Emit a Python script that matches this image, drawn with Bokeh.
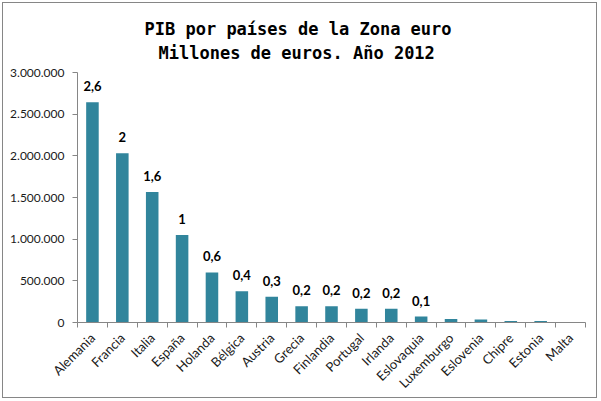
from math import pi
from bokeh.plotting import figure
from bokeh.models import FixedTicker, ColumnDataSource, LabelSet, Range1d, Title
from bokeh.embed import file_html
from bokeh.resources import INLINE
from bokeh.core.properties import value

countries = ["Alemania", "Francia", "Italia", "España", "Holanda", "Bélgica",
             "Austria", "Grecia", "Finlandia", "Portugal", "Irlanda",
             "Eslovaquia", "Luxemburgo", "Eslovenia", "Chipre", "Estonia", "Malta"]
pib = [2644200, 2032297, 1565916, 1049525, 600638, 375881, 309900, 193749,
       194469, 165409, 163595, 71463, 42918, 35319, 17886, 17415, 6829]
bar_labels = ["2,6", "2", "1,6", "1", "0,6", "0,4", "0,3", "0,2", "0,2", "0,2",
              "0,2", "0,1", "", "", "", "", ""]
y_ticks = [0, 500000, 1000000, 1500000, 2000000, 2500000, 3000000]
y_tick_labels = ["0", "500.000", "1.000.000", "1.500.000", "2.000.000",
                 "2.500.000", "3.000.000"]
title_line1 = "PIB por países de la Zona euro"
title_line2 = "Millones de euros. Año 2012"

n = len(countries)
xpos = list(range(n))
src = ColumnDataSource(dict(x=xpos, top=pib, lab=bar_labels, name=countries))

p = figure(width=595, height=396, output_backend="svg", toolbar_location=None,
           x_range=Range1d(-0.5, n - 0.5), y_range=Range1d(0, 3000000),
           min_border_left=74, min_border_right=13, min_border_top=69,
           min_border_bottom=76)
p.styles = {"border": "1px solid #868686", "box-sizing": "border-box",
            "margin-left": "2px", "margin-top": "2px"}

p.vbar(x="x", top="top", width=0.42, bottom=0, source=src,
       fill_color="#31859C", line_color=None)

labels = LabelSet(x="x", y="top", text="lab", source=src, y_offset=11,
                  text_align="center", text_baseline="alphabetic",
                  text_font=value("Lato"), text_font_size="13px",
                  text_font_style="bold", text_color="#000000")
p.add_layout(labels)

p.title.text = title_line1
p.title.align = "left"
p.title.offset = 67
p.title.standoff = -8
p.title.vertical_align = "bottom"
p.title.text_font = "DejaVu Sans Mono"
p.title.text_font_size = "17px"
p.title.text_font_style = "bold"
p.title.text_color = "#000000"

t2 = Title(text=title_line2, align="left", offset=81, standoff=16,
           vertical_align="top",
           text_font="DejaVu Sans Mono", text_font_size="17px",
           text_font_style="bold", text_color="#000000")
p.add_layout(t2, "above")

p.xgrid.visible = False
p.ygrid.visible = False
p.outline_line_color = None
p.background_fill_color = "white"
p.border_fill_color = "white"

yax = p.yaxis[0]
yax.ticker = FixedTicker(ticks=y_ticks)
yax.major_label_overrides = {t: s for t, s in zip(y_ticks, y_tick_labels)}
yax.axis_line_color = "#868686"
yax.major_tick_line_color = "#868686"
yax.major_tick_out = 5
yax.major_tick_in = 0
yax.minor_tick_line_color = None
yax.major_label_text_font = "Lato"
yax.major_label_text_font_size = "12px"
yax.major_label_text_color = "#1a1a1a"
yax.major_label_standoff = 8

xax = p.xaxis[0]
xax.ticker = FixedTicker(ticks=xpos, minor_ticks=[i - 0.5 for i in range(n + 1)])
xax.major_label_overrides = {i: c for i, c in zip(xpos, countries)}
xax.axis_line_color = "#868686"
xax.major_tick_line_color = None
xax.major_tick_out = 0
xax.major_tick_in = 0
xax.minor_tick_line_color = "#868686"
xax.minor_tick_out = 5
xax.minor_tick_in = 0
xax.major_label_orientation = pi / 4
xax.major_label_text_font = "Lato"
xax.major_label_text_font_size = "13px"
xax.major_label_text_color = "#1a1a1a"
xax.major_label_standoff = 8

open("out.html", "w").write(file_html(p, INLINE))
